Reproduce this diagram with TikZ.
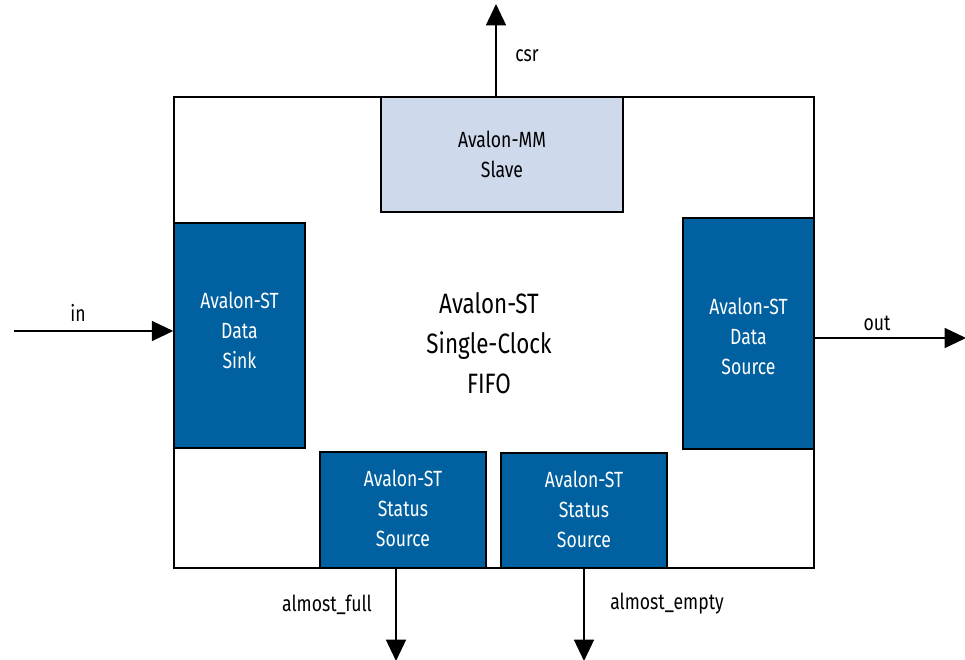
\documentclass[tikz,border=0pt]{standalone}
\usepackage{fontspec}
\setmainfont{Fira Sans}[FakeStretch=0.8]
\usetikzlibrary{arrows.meta}
\definecolor{stblue}{HTML}{0060A0}
\definecolor{mmblue}{HTML}{CFD9EC}
\begin{document}
\begin{tikzpicture}[x=0.75pt,y=-0.75pt,
  blk/.style={draw=black,line width=1.2pt,fill=stblue,text=white,align=center,font=\fontsize{16.5}{22.5}\selectfont,inner sep=0pt},
  mm/.style={draw=black,line width=1.2pt,fill=mmblue,text=black,align=center,font=\fontsize{16.5}{22.5}\selectfont,inner sep=0pt},
  wtxt/.style={text=white,align=center,font=\fontsize{16.5}{22.5}\selectfont,inner sep=0pt},
  sig/.style={line width=1.2pt,-{Triangle[length=16pt,width=15pt]}},
  lbl/.style={font=\fontsize{16.5}{20}\selectfont,inner sep=0pt}]
\useasboundingbox (0,0) rectangle (965,660);
\node[draw=black,line width=1pt,minimum width=640*0.75pt,minimum height=471*0.75pt,inner sep=0pt] (fifo) at (494,332.5) {};
\node[align=center,font=\fontsize{21}{30}\selectfont] (title) at (489,343) {Avalon-ST\\Single-Clock\\FIFO};
\node[mm,minimum width=242*0.75pt,minimum height=115*0.75pt] (slave) at (502,154.5) {Avalon-MM\\Slave};
\node[blk,minimum width=131*0.75pt,minimum height=225*0.75pt] (sink) at (239.5,335.5) {};
\node[wtxt] (sinktxt) at (239.5,330) {Avalon-ST\\Data\\Sink};
\node[blk,minimum width=131*0.75pt,minimum height=231*0.75pt] (src) at (748.5,333.5) {};
\node[wtxt] (srctxt) at (748.5,336.5) {Avalon-ST\\Data\\Source};
\node[blk,minimum width=166*0.75pt,minimum height=116*0.75pt] (st1) at (403,510) {};
\node[wtxt] (st1txt) at (403,508) {Avalon-ST\\Status\\Source};
\node[blk,minimum width=166*0.75pt,minimum height=115*0.75pt] (st2) at (584,510.5) {};
\node[wtxt] (st2txt) at (584,509) {Avalon-ST\\Status\\Source};
\coordinate (csrtop) at (496,4);
\coordinate (inL) at (14,331);
\coordinate (outR) at (966,338);
\coordinate (afB) at (396,661);
\coordinate (aeB) at (584,661);
\draw[sig] (slave.north -| csrtop) -- (csrtop);
\draw[sig] (inL) -- (inL -| sink.west);
\draw[sig] (outR -| src.east) -- (outR);
\draw[sig] (afB |- st1.south) -- (afB);
\draw[sig] (aeB |- st2.south) -- (aeB);
\node[lbl] (csrl) at (527,56) {csr};
\node[lbl] (inl) at (78,313) {in};
\node[lbl] (outl) at (877,323) {out};
\node[lbl] (afl) at (327,605) {almost\_full};
\node[lbl] (ael) at (667,604) {almost\_empty};
\end{tikzpicture}
\end{document}
